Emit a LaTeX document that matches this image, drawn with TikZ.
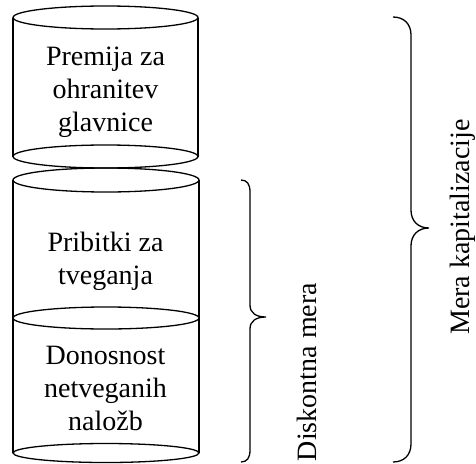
\documentclass[tikz,border=0pt]{standalone}
\usepackage{fontspec}
\setmainfont{Liberation Serif}
\begin{document}
\begin{tikzpicture}[x={(1pt,0)},y={(0,-1pt)},
  line/.style={line width=1.3pt,black},
  lbl/.style={inner sep=0pt,align=center,font=\fontsize{28}{33}\selectfont},
  side/.style={inner sep=0pt,font=\fontsize{28}{33}\selectfont,rotate=90,anchor=base}]
\useasboundingbox (0,0) rectangle (476,463);
% cylinder 1
\draw[line] (13,17.5) -- (13,156.5) (198,17.5) -- (198,156.5);
\draw[line] (105.5,17.5) ellipse [x radius=92.5,y radius=11.5];
\draw[line] (105.5,156.5) ellipse [x radius=92.5,y radius=11.5];
% cylinder 2
\draw[line] (13,180) -- (13,453) (199,180) -- (199,453);
\draw[line] (106,180) ellipse [x radius=93,y radius=12];
\draw[line] (106,318) ellipse [x radius=93,y radius=11];
\draw[line] (106,453) ellipse [x radius=93,y radius=9.5];
% texts
\node[lbl] (t1) at (105.5,92) {Premija za\\ohranitev\\glavnice};
\node[lbl] (t2) at (105.5,261) {Pribitki za\\tveganja};
\node[lbl] (t3) at (105.5,388) {Donosnost\\netveganih\\naložb};
% braces
\draw[line] (241,180) .. controls (247,180) and (250,184) .. (250,192) -- (250,305)
  .. controls (250,313) and (256,317) .. (266,317)
  .. controls (256,317) and (250,321) .. (250,329) -- (250,450)
  .. controls (250,458) and (247,462) .. (241,462);
\draw[line] (393,17) .. controls (404,17) and (411,24) .. (411,35) -- (411,210)
  .. controls (411,221) and (418,228) .. (429,228)
  .. controls (418,228) and (411,235) .. (411,246) -- (411,444)
  .. controls (411,455) and (404,462) .. (393,462);
\node[side] (d) at (316,372) {Diskontna mera};
\node[side] (k) at (469,227) {Mera kapitalizacije};
\end{tikzpicture}
\end{document}
